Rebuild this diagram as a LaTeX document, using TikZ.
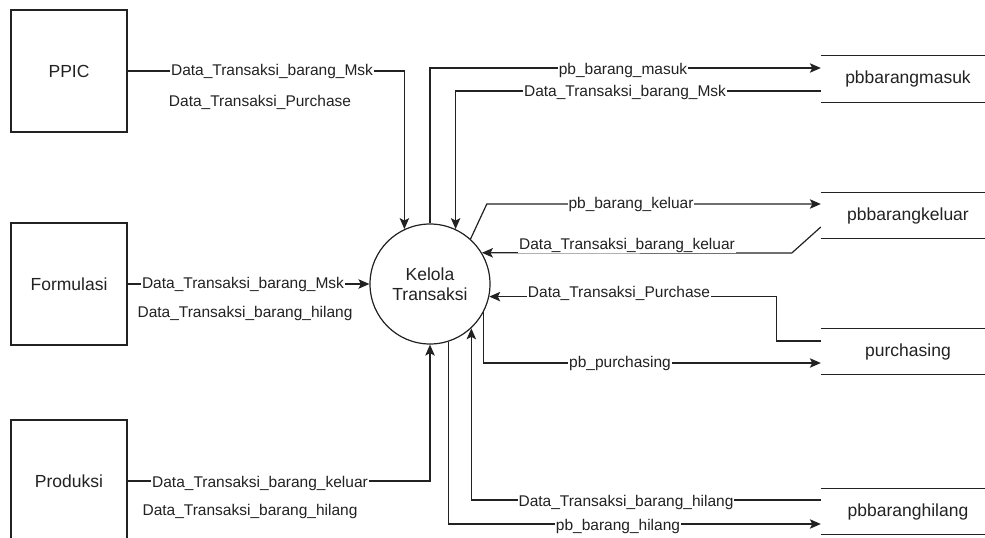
\documentclass[tikz,border=0pt]{standalone}
\usepackage{fontspec}
\setmainfont{Liberation Sans}
\usetikzlibrary{arrows.meta,calc}
\definecolor{ink}{RGB}{34,34,34}
\tikzset{
  ent/.style={draw=ink, line width=1.2pt, minimum width=116pt, minimum height=122pt,
    inner sep=0pt, font=\fontsize{17.5}{20}\selectfont, text=ink},
  proc/.style={circle, draw=ink, line width=1.2pt, minimum size=120pt, inner sep=0pt,
    align=center, font=\fontsize{17.5}{20}\selectfont, text=ink},
  store/.style={minimum width=174pt, minimum height=46pt, inner sep=0pt,
    font=\fontsize{17.5}{20}\selectfont, text=ink},
  wire/.style={draw=ink, line width=1.2pt},
  flow/.style={wire, -{Stealth[length=11pt,width=9.5pt,inset=2.5pt]}},
  lbl/.style={fill=white, inner sep=1pt, font=\fontsize{15.5}{18}\selectfont, text=ink},
}
\begin{document}
\begin{tikzpicture}[x=1pt,y=-1pt]
  \useasboundingbox (0,0) rectangle (985,538);
  \fill[white] (0,0) rectangle (985,538);
  \clip (0,0) rectangle (985,538);

  % external entities
  \node[ent] (ppic) at (69,71) {PPIC};
  \node[ent] (form) at (69,284) {Formulasi};
  \node[ent] (prod) at (69,481) {Produksi};

  % process
  \node[proc] (circ) at (430,284) {Kelola\\Transaksi};

  % data stores
  \node[store] (pbm) at (908,79) {pbbarangmasuk};
  \node[store] (pbk) at (908,215.5) {pbbarangkeluar};
  \node[store] (pur) at (908,351.5) {purchasing};
  \node[store] (pbh) at (908,511.5) {pbbaranghilang};
  \foreach \s in {pbm,pbk,pur,pbh}
    \draw[wire] (\s.north west) -- (\s.north east) (\s.south west) -- (\s.south east);

  % connector end points on the data stores
  \coordinate (pbmin)  at ($(pbm.west)+(0,-11)$);
  \coordinate (pbmout) at ($(pbm.west)+(0,12)$);
  \coordinate (pbkin)  at ($(pbk.west)+(0,-11.5)$);
  \coordinate (pbkout) at ($(pbk.west)+(0,11.5)$);
  \coordinate (purout) at ($(pur.west)+(0,-10.5)$);
  \coordinate (purin)  at ($(pur.west)+(0,11.5)$);
  \coordinate (pbhout) at ($(pbh.west)+(0,-11.5)$);
  \coordinate (pbhin)  at ($(pbh.west)+(0,12.5)$);

  % flows from the entities
  \draw[flow] (ppic.east) -| (circ.115);
  \draw[flow] (form.east) -- (circ.west);
  \draw[flow] (prod.east) -| (circ.south);

  % flows between the process and the stores
  \draw[flow] (circ.north) |- (pbmin);
  \draw[flow] (pbmout) -| (circ.65);
  \draw[flow] (circ.48) -- ($(pbkin)+(-334,0)$) -- (pbkin);
  \draw[flow] (pbkout) -- ++(-29,26) -- (circ.31);
  \draw[flow] (purout) -- ++(-44,0) |- (circ.-12.5);
  \draw[flow] (circ.-28) |- (purin);
  \draw[flow] (pbhout) -| (circ.-47);
  \draw[flow] (circ.-72.5) |- (pbhin);

  % flow labels
  \node[lbl] (t1) at (272,71)  {Data\_Transaksi\_barang\_Msk};
  \node[lbl] (t2) at (260,102) {Data\_Transaksi\_Purchase};
  \node[lbl] (t3) at (243,284) {Data\_Transaksi\_barang\_Msk};
  \node[lbl] (t4) at (245,313) {Data\_Transaksi\_barang\_hilang};
  \node[lbl] (t5) at (260,483) {Data\_Transaksi\_barang\_keluar};
  \node[lbl] (t6) at (250,511) {Data\_Transaksi\_barang\_hilang};
  \node[lbl] (t7) at (623,70)  {pb\_barang\_masuk};
  \node[lbl] (t8) at (625,92)  {Data\_Transaksi\_barang\_Msk};
  \node[lbl] (t9) at (631,204) {pb\_barang\_keluar};
  \node[lbl] (t10) at (627,245) {Data\_Transaksi\_barang\_keluar};
  \node[lbl] (t11) at (619,293) {Data\_Transaksi\_Purchase};
  \node[lbl] (t12) at (620,363) {pb\_purchasing};
  \node[lbl] (t13) at (626,502) {Data\_Transaksi\_barang\_hilang};
  \node[lbl] (t14) at (618,526) {pb\_barang\_hilang};
\end{tikzpicture}
\end{document}
